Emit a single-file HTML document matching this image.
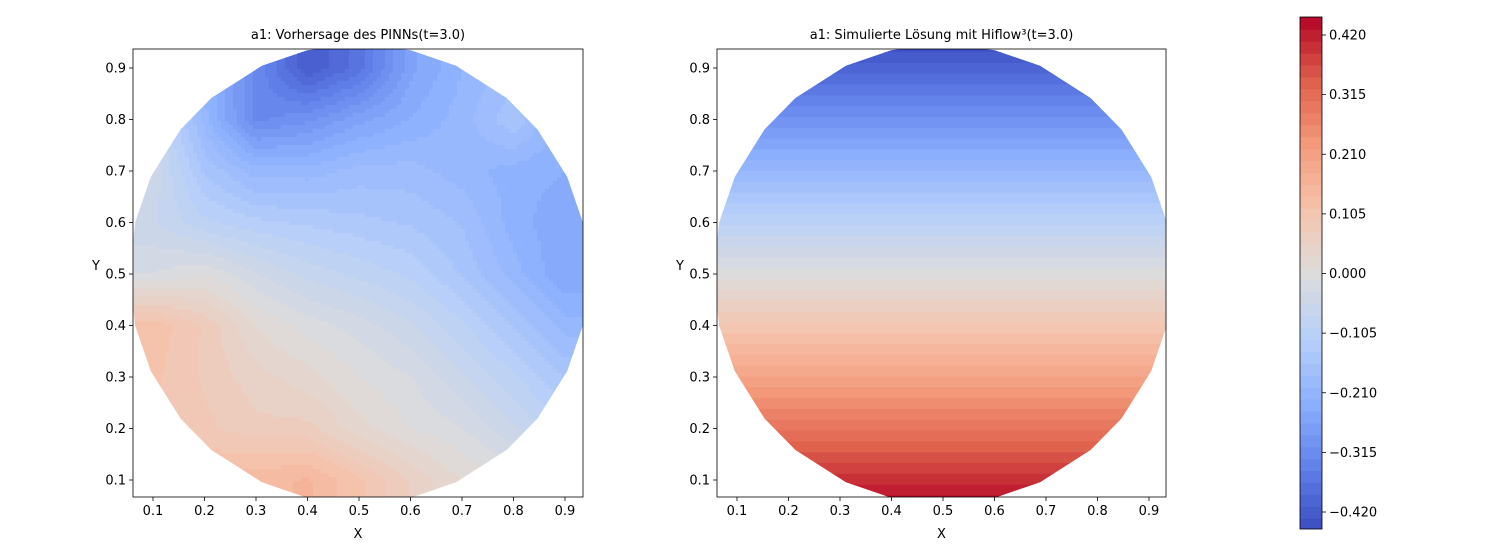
<!DOCTYPE html>
<html><head><meta charset="utf-8">
<style>
body{margin:0;background:#fff;font-family:"Liberation Sans","DejaVu Sans",sans-serif;}
svg text{font-family:"DejaVu Sans","Liberation Sans",sans-serif;font-size:13px;fill:#000;}
</style></head>
<body>
<svg id="fig" width="1500" height="547" viewBox="0 0 1500 547">
<defs>
<clipPath id="axL"><rect x="133" y="49" width="450" height="448"/></clipPath>
<clipPath id="axR"><rect x="717" y="49" width="449" height="448"/></clipPath>
</defs>
<g id="left"></g>
<g id="right"></g>
<g id="cbar"></g>
</svg>
<script>
// ---- data ----
const gridX = [0.1,0.2,0.3,0.4,0.5,0.6,0.7,0.8,0.9];
const gridY = [0.9,0.8,0.7,0.6,0.5,0.4,0.3,0.2,0.1];
const pinnRow09 = [-0.12,-0.22,-0.32,-0.42,-0.37,-0.26,-0.21,-0.18,-0.2];
const pinnRow08 = [-0.06,-0.2,-0.32,-0.3,-0.26,-0.23,-0.2,-0.15,-0.22];
const pinnRow07 = [-0.05,-0.15,-0.2,-0.2,-0.18,-0.18,-0.2,-0.22,-0.23];
const pinnRow06 = [-0.06,-0.1,-0.12,-0.13,-0.14,-0.15,-0.17,-0.22,-0.25];
const pinnRow05 = [-0.02,0.0,-0.04,-0.07,-0.09,-0.11,-0.15,-0.2,-0.25];
const pinnRow04 = [0.12,0.08,0.02,-0.01,-0.03,-0.06,-0.1,-0.15,-0.2];
const pinnRow03 = [0.11,0.08,0.05,0.03,0.0,-0.02,-0.06,-0.1,-0.15];
const pinnRow02 = [0.1,0.09,0.07,0.07,0.03,0.0,-0.02,-0.06,-0.1];
const pinnRow01 = [0.12,0.13,0.14,0.15,0.11,0.06,0.02,0.0,-0.04];
const pinnRows = [pinnRow09,pinnRow08,pinnRow07,pinnRow06,pinnRow05,pinnRow04,pinnRow03,pinnRow02,pinnRow01];
const tickVals = [0.1,0.2,0.3,0.4,0.5,0.6,0.7,0.8,0.9];
const cbarTicks = [0.42,0.315,0.21,0.105,0,-0.105,-0.21,-0.315,-0.42];
const vmin = -0.452, vmax = 0.452, levelStep = 0.021;

// ---- helpers ----
const NS = "http://www.w3.org/2000/svg";
function mk(tag, attrs, parent){const e=document.createElementNS(NS,tag);for(const k in attrs)e.setAttribute(k,attrs[k]);parent.appendChild(e);return e;}
const cmapStops=[[59,76,192],[98,130,234],[141,176,254],[184,208,249],[221,220,220],[245,196,173],[244,154,123],[222,96,76],[180,4,38]];
function cmap(v){let t=(v-vmin)/(vmax-vmin);t=Math.max(0,Math.min(1,t));const p=t*8,i=Math.min(7,Math.floor(p)),f=p-i;const a=cmapStops[i],b=cmapStops[i+1];return `rgb(${Math.round(a[0]+(b[0]-a[0])*f)},${Math.round(a[1]+(b[1]-a[1])*f)},${Math.round(a[2]+(b[2]-a[2])*f)})`;}
function quant(v){return (Math.floor(v/levelStep)+0.5)*levelStep;}
const PX = 515; // pixels per data unit
function axes(x0,y0,w,h){ // 0.1 is 20px from left, 17px from bottom
  return {sx:v=>x0+20+(v-0.1)*PX, sy:v=>y0+h-17-(v-0.1)*PX, inv:(px,py)=>[0.1+(px-x0-20)/PX, 0.1+(y0+h-17-py)/PX]};
}
const angles=[0,13,25,39,50,65,77,90,103,115,130,141,155,167,180,193,205,219,230,245,257,270,283,295,310,321,335,347];
function polyPts(A){return angles.map(a=>{const r=0.446,t=a*Math.PI/180;return A.sx(0.5+r*Math.cos(t)).toFixed(1)+","+A.sy(0.5+r*Math.sin(t)).toFixed(1);}).join(" ");}
function interp(x,y){
  const fx=(x-0.1)/0.1, fy=(0.9-y)/0.1;
  const cx=Math.max(0,Math.min(7,Math.floor(fx))), cy=Math.max(0,Math.min(7,Math.floor(fy)));
  const tx=Math.max(0,Math.min(1,fx-cx)), ty=Math.max(0,Math.min(1,fy-cy));
  const a=pinnRows[cy][cx],b=pinnRows[cy][cx+1],c=pinnRows[cy+1][cx],d=pinnRows[cy+1][cx+1];
  return a*(1-tx)*(1-ty)+b*tx*(1-ty)+c*(1-tx)*ty+d*tx*ty;
}
function drawAxes(g,x0,y0,w,h,A,title){
  mk("rect",{x:x0,y:y0,width:w,height:h,fill:"none",stroke:"#000","stroke-width":0.8,},g);
  tickVals.forEach(v=>{
    const x=A.sx(v);mk("line",{x1:x,x2:x,y1:y0+h,y2:y0+h+4,stroke:"#000","stroke-width":0.8},g);
    const tx=mk("text",{x:x,y:y0+h+18,"text-anchor":"middle"},g);tx.textContent=v.toFixed(1);
    
    
    const y=A.sy(v);mk("line",{x1:x0-4,x2:x0,y1:y,y2:y,stroke:"#000","stroke-width":0.8},g);
    const ty=mk("text",{x:x0-7,y:y+4.5,"text-anchor":"end"},g);ty.textContent=v.toFixed(1);
    
    
  });
  const xl=mk("text",{x:x0+w/2,y:y0+h+41,"text-anchor":"middle","font-size":"14"},g);xl.textContent="X";
  
  const yl=mk("text",{x:x0-37,y:y0+h/2-3,"text-anchor":"middle","font-size":"14"},g);yl.textContent="Y";
  
  const t=mk("text",{x:x0+w/2,y:y0-10,"text-anchor":"middle"},g);t.textContent=title;
  
}
const nLevels = Math.round((vmax-vmin)/levelStep);

// ---- left panel ----
(function(){
  const g=document.getElementById("left");const A=axes(133,49,450,448);
  mk("clipPath",{id:"polyL"},g).appendChild(document.createElementNS(NS,"polygon")).setAttribute("points",polyPts(A));
  const inner=mk("g",{"clip-path":"url(#axL)"},g);const field=mk("g",{"clip-path":"url(#polyL)"},inner);
  const cs=4;
  for(let px=133;px<583;px+=cs)for(let py=49;py<497;py+=cs){
    const [x,y]=A.inv(px+cs/2,py+cs/2);
    const r=mk("rect",{x:px,y:py,width:cs+0.5,height:cs+0.5,fill:cmap(quant(interp(x,y)))},field);
    
  }
  drawAxes(g,133,49,450,448,A,"a1: Vorhersage des PINNs(t=3.0)");
})();

// ---- right panel ----
(function(){
  const g=document.getElementById("right");const A=axes(717,49,449,448);
  mk("clipPath",{id:"polyR"},g).appendChild(document.createElementNS(NS,"polygon")).setAttribute("points",polyPts(A));
  const inner=mk("g",{"clip-path":"url(#axR)"},g);const field=mk("g",{"clip-path":"url(#polyR)"},inner);
  for(let k=0;k<nLevels;k++){
    const lv=vmin+k*levelStep;
    const yTop=0.5-lv, yBot=0.5-(lv+levelStep);
    const r=mk("rect",{x:717,y:A.sy(yTop).toFixed(2),width:449,height:(A.sy(yBot)-A.sy(yTop)+0.6).toFixed(2),fill:cmap(lv+levelStep/2)},field);
    
  }
  drawAxes(g,717,49,449,448,A,"a1: Simulierte Lösung mit Hiflow³(t=3.0)");
})();

// ---- colorbar ----
(function(){
  const g=document.getElementById("cbar");const x0=1300,y0=17,w=22,h=512;
  const sy=v=>35+(0.42-v)/0.84*477;
  const cg=mk("g",{},g);
  mk("clipPath",{id:"cbClip"},g).appendChild(document.createElementNS(NS,"rect")).setAttribute("x",x0);
  const cr=document.querySelector("#cbClip rect");cr.setAttribute("y",y0);cr.setAttribute("width",w);cr.setAttribute("height",h);
  cg.setAttribute("clip-path","url(#cbClip)");
  for(let k=0;k<nLevels+2;k++){
    const lv=vmin-levelStep+k*levelStep;
    const r=mk("rect",{x:x0,y:sy(lv+levelStep).toFixed(2),width:w,height:(sy(lv)-sy(lv+levelStep)+0.5).toFixed(2),fill:cmap(lv+levelStep/2)},cg);
    
  }
  mk("rect",{x:x0,y:y0,width:w,height:h,fill:"none",stroke:"#000","stroke-width":0.8},g);
  cbarTicks.forEach(v=>{
    const y=sy(v);mk("line",{x1:x0+w,x2:x0+w+4,y1:y,y2:y,stroke:"#000","stroke-width":0.8},g);
    const t=mk("text",{x:x0+w+7,y:y+4.5},g);t.textContent=(v<0?"\u2212":"")+Math.abs(v).toFixed(3);
    
    
  });
})();
</script>
</body></html>
